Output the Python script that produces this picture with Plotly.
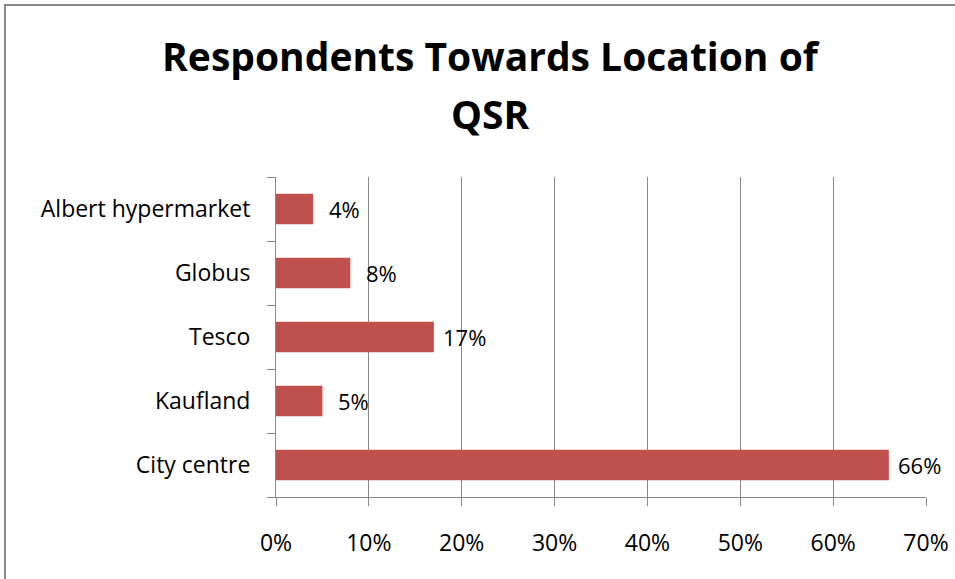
import plotly.graph_objects as go

categories = ["City centre", "Kaufland", "Tesco", "Globus", "Albert hypermarket"]
values = [66, 5, 17, 8, 4]
value_labels = ["66%", "5%", "17%", "8%", "4%"]
x_tickvals = [0, 10, 20, 30, 40, 50, 60, 70]
x_ticktext = ["0%", "10%", "20%", "30%", "40%", "50%", "60%", "70%"]
title_lines = ["Respondents Towards Location of", "QSR"]

BAR = "#C0504D"
GRID = "#888888"
FONT = "'Open Sans', sans-serif"
TXT = 23

W, H = 955, 579
L, R, T, B = 276, 29, 177, 82
PW, PH = W - L - R, H - T - B

fig = go.Figure()
fig.add_trace(go.Bar(
    y=categories, x=values, orientation="h",
    marker=dict(color=BAR, line=dict(width=0)),
    hoverinfo="skip",
))

for c, v, t in zip(categories, values, value_labels):
    fig.add_annotation(x=v, y=c, text=t, showarrow=False, xanchor="center",
                       xshift=31, font=dict(size=TXT - 1, color="#000000", family=FONT))

# second title line
fig.add_annotation(text="<b>" + title_lines[1] + "</b>", xref="paper", yref="paper",
                   x=(490 - L) / PW, y=1 + (T - 113) / PH, xanchor="center", yanchor="middle",
                   showarrow=False, font=dict(size=39, color="#000000", family=FONT))

# chart border (paper-relative)
fig.add_shape(type="rect", xref="paper", yref="paper",
              x0=(5 - L) / PW, x1=(965 - L) / PW,
              y0=(H - T - 590) / PH, y1=1 + (T - 5) / PH,
              line=dict(color="#898989", width=2), fillcolor="rgba(0,0,0,0)", layer="below")

fig.update_layout(
    width=W, height=H,
    margin=dict(l=L, r=R, t=T, b=B, autoexpand=False),
    paper_bgcolor="white", plot_bgcolor="white",
    showlegend=False,
    bargap=0.52,
    font=dict(family=FONT, size=TXT, color="#000000"),
    title=dict(text=title_lines[0],
               x=490 / W, xanchor="center", xref="container",
               y=1 - 57 / H, yanchor="middle", yref="container",
               font=dict(family=FONT, size=39, color="#000000", weight="bold")),
    xaxis=dict(range=[0, 70], tickvals=x_tickvals, ticktext=x_ticktext,
               showgrid=True, gridcolor=GRID, gridwidth=1,
               showline=True, linecolor=GRID, linewidth=1,
               ticks="outside", ticklen=8, tickcolor=GRID,
               ticklabelstandoff=17,
               zeroline=False, fixedrange=True,
               tickfont=dict(size=TXT, family=FONT)),
    yaxis=dict(showgrid=False, showline=True, linecolor=GRID, linewidth=1,
               ticks="outside", ticklen=8, tickcolor=GRID, tickson="boundaries",
               ticklabelstandoff=20,
               tickfont=dict(size=TXT, family=FONT), fixedrange=True),
)

fig.write_html("out.html", config={"displayModeBar": False},
               post_script="document.body.style.margin='0';")
